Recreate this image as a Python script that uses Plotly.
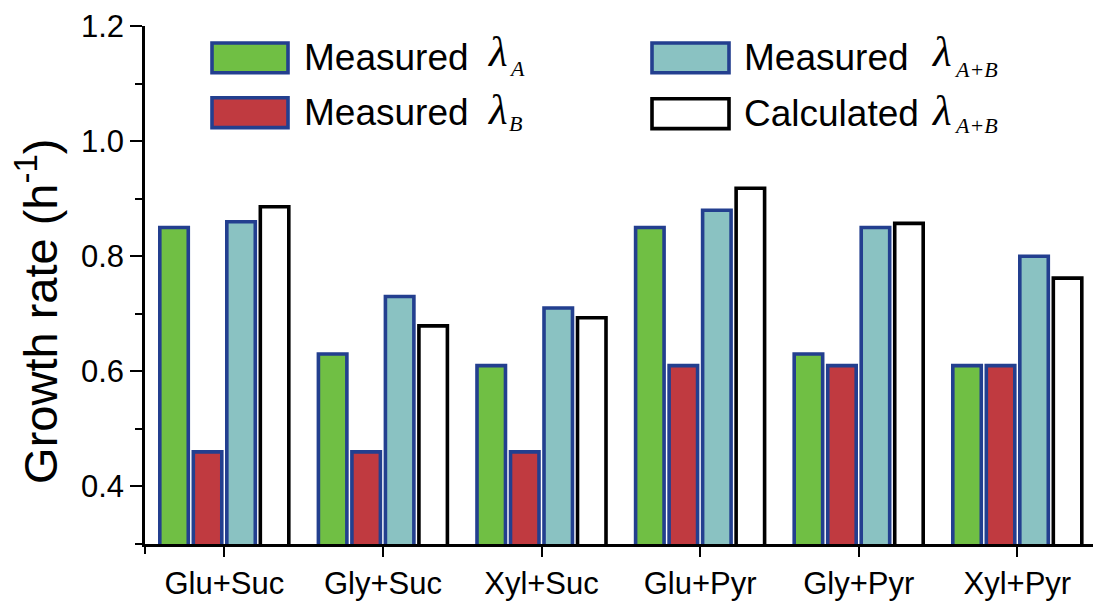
import plotly.graph_objects as go

categories = ["Glu+Suc", "Gly+Suc", "Xyl+Suc", "Glu+Pyr", "Gly+Pyr", "Xyl+Pyr"]
measured_a = [0.85, 0.63, 0.61, 0.85, 0.63, 0.61]
measured_b = [0.46, 0.46, 0.46, 0.61, 0.61, 0.61]
measured_ab = [0.86, 0.73, 0.71, 0.88, 0.85, 0.80]
calculated_ab = [0.886, 0.679, 0.693, 0.918, 0.857, 0.762]
y_ticks = [0.4, 0.6, 0.8, 1.0, 1.2]

GREEN = "#70bf44"
RED = "#c03a40"
TEAL = "#8ac2c2"
BLUE = "#233f8f"
FONT = "Liberation Sans, Arial, sans-serif"
SERIF = "Liberation Serif, Times New Roman, serif"

W, H = 1093, 601
L, R, T, B = 145, 0, 26, 55
PW, PH = W - L - R, H - T - B

def px(x):
    return (x - L) / PW

def py(y):
    return (H - B - y) / PH

xs = list(range(len(categories)))

fig = go.Figure()
series = [
    ("Measured λA", measured_a, GREEN, BLUE),
    ("Measured λB", measured_b, RED, BLUE),
    ("Measured λA+B", measured_ab, TEAL, BLUE),
    ("Calculated λA+B", calculated_ab, "#ffffff", "#000000"),
]
for name, vals, fill, line in series:
    fig.add_trace(go.Bar(
        x=xs, y=vals, name=name,
        marker=dict(color=fill, line=dict(color=line, width=3.6)),
        showlegend=False,
    ))

fig.update_layout(
    width=W, height=H,
    margin=dict(l=L, r=R, t=T, b=B),
    paper_bgcolor="white", plot_bgcolor="white",
    barmode="group", bargap=0.155, bargroupgap=0.15,
    font=dict(family=FONT, color="black"),
)
fig.update_xaxes(
    range=[-0.5, (W - R - L) / 158.6 - 0.5],
    tickvals=xs, ticktext=categories,
    ticks="outside", ticklen=10, tickwidth=2, tickcolor="black",
    showline=True, linecolor="black", linewidth=2.5,
    showgrid=False, zeroline=False,
    tickfont=dict(size=31, family=FONT),
)
fig.update_yaxes(
    range=[0.3, 1.2],
    tickvals=y_ticks, ticktext=["%.1f" % v for v in y_ticks],
    ticks="outside", ticklen=12, tickwidth=2, tickcolor="black",
    minor=dict(tickvals=[0.3, 0.5, 0.7, 0.9, 1.1], ticks="outside", ticklen=7, tickwidth=2, tickcolor="black"),
    showline=True, linecolor="black", linewidth=2.5,
    showgrid=False, zeroline=False,
    tickfont=dict(size=31, family=FONT),
)

# y axis title
fig.add_annotation(xref="paper", yref="paper", x=px(37), y=py(313),
                   text="Growth rate (h<sup>-1</sup>)", textangle=-90, showarrow=False,
                   xanchor="center", yanchor="middle",
                   font=dict(size=47, family=FONT, color="black"))

# left edge tick on x axis
fig.add_shape(type="line", xref="paper", yref="paper", x0=0, x1=0, y0=0, y1=-10 / PH,
              line=dict(color="black", width=2))

# legend drawn as boxes + text
legend_items = [
    (212, 288, 43, 73, GREEN, BLUE, "Measured", 302, 485, 52, "A", 507, 69),
    (212, 288, 98, 128, RED, BLUE, "Measured", 302, 485, 110, "B", 507, 124),
    (652, 729, 43, 73, TEAL, BLUE, "Measured", 742, 929, 52, "A+B", 952, 70),
    (652, 729, 99, 129, "#ffffff", "#000000", "Calculated", 742, 929, 111, "A+B", 952, 126),
]
for x0, x1, y0, y1, fill, line, label, tx, lx, ly, sub, sx, sy in legend_items:
    fig.add_shape(type="rect", xref="paper", yref="paper",
                  x0=px(x0), x1=px(x1), y0=py(y1), y1=py(y0),
                  fillcolor=fill, line=dict(color=line, width=3.6))
    yc = py((y0 + y1) / 2)
    fig.add_annotation(xref="paper", yref="paper", x=px(tx), y=yc,
                       text=label, showarrow=False, xanchor="left", yanchor="middle",
                       font=dict(size=37, family=FONT, color="black"))
    fig.add_annotation(xref="paper", yref="paper", x=px(lx), y=py(ly),
                       text="<i>λ</i>", showarrow=False, xanchor="left", yanchor="middle",
                       font=dict(size=43, family=SERIF, color="black"))
    fig.add_annotation(xref="paper", yref="paper", x=px(sx), y=py(sy),
                       text="<i>%s</i>" % sub, showarrow=False, xanchor="left", yanchor="middle",
                       font=dict(size=22, family=SERIF, color="black"))

fig.write_html("out.html")
